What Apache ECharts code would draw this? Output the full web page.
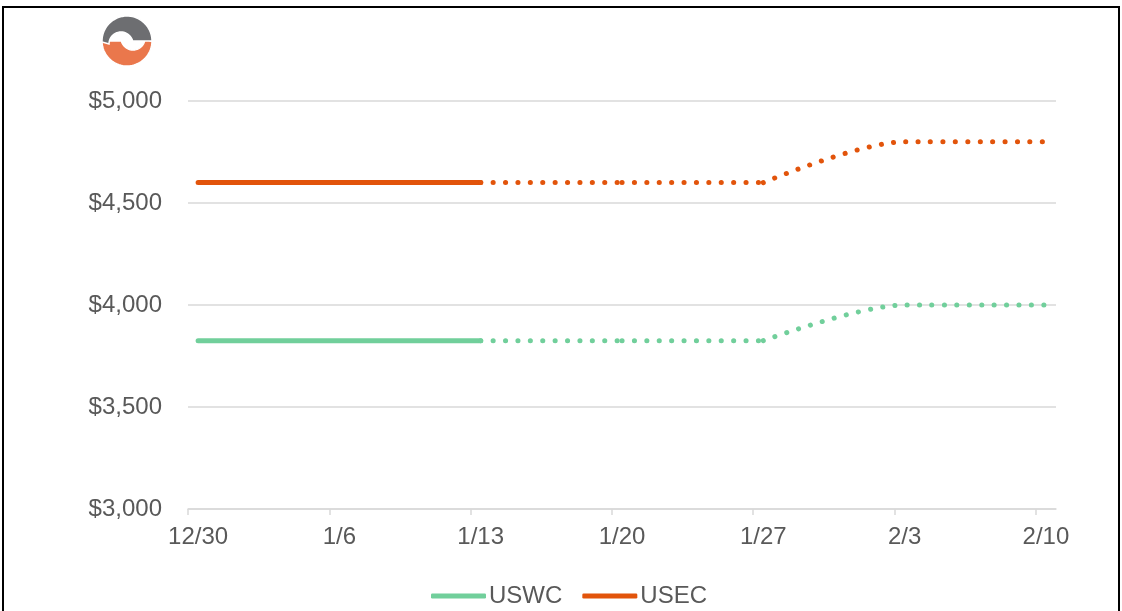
<!DOCTYPE html>
<html>
<head>
<meta charset="utf-8">
<script src="https://cdn.jsdelivr.net/npm/echarts@6/dist/echarts.min.js"></script>
<style>
  html, body { margin: 0; padding: 0; background: #fff; }
  #chart { width: 1122px; height: 611px; }
</style>
</head>
<body>
<div id="chart"></div>
<script>
// weekly points, x = days since 12/30 (Excel date axis: points sit mid-day)
const tickLabels = ['12/30', '1/6', '1/13', '1/20', '1/27', '2/3', '2/10'];
const weekDays = [0, 7, 14, 21, 28, 35, 42];
const uswc = [3825, 3825, 3825, 3825, 3825, 4000, 4000];
const usec = [4600, 4600, 4600, 4600, 4600, 4800, 4800];

const GREEN = '#71cf9b';
const ORANGE = '#e2540b';

// solid = actuals, dotted = forecast segments
const solidIdx = [0, 1, 2];
const dottedSegs = [[2, 3], [3, 4], [4, 5, 6]];

const pts = (vals, idx) => idx.map(i => [weekDays[i] + 0.5, vals[i]]);

function makeSeries(name, vals, color) {
  const out = [{
    name: name,
    type: 'line',
    color: color,
    symbol: 'none',
    data: pts(vals, solidIdx),
    lineStyle: { width: 5, color: color, cap: 'round' }
  }];
  dottedSegs.forEach(seg => {
    out.push({
      name: name,
      type: 'line',
      color: color,
      symbol: 'none',
      smooth: seg.length > 2 ? 0.3 : false,
      data: pts(vals, seg),
      lineStyle: { width: 5, color: color, type: [0.1, 12.3], cap: 'round' }
    });
  });
  return out;
}

// logo: two offset crescents
function arc(cx, cy, r, a0, a1, n) {
  const p = [];
  for (let i = 0; i <= n; i++) {
    const a = (a0 + (a1 - a0) * i / n) * Math.PI / 180;
    p.push([cx + r * Math.cos(a), cy - r * Math.sin(a)]);
  }
  return p;
}
const greyLogo = arc(127, 41, 25, 182, 0, 40).concat(arc(121, 44, 12, 14.5, 180, 24));
const orangeLogo = arc(127, 41, 25, -2, -180, 40).concat(arc(133, 38, 12, 194.5, 360, 24));

const chart = echarts.init(document.getElementById('chart'));

const axisText = { color: '#595959', fontSize: 24, fontFamily: 'Liberation Sans, Arial, sans-serif' };

chart.setOption({
  animation: false,
  grid: { left: 188, right: 66, top: 101, bottom: 102 },
  graphic: [
    {
      type: 'rect',
      shape: { x: 3, y: 7, width: 1116, height: 620 },
      style: { fill: 'none', stroke: '#000', lineWidth: 2 }
    },
    { type: 'polygon', shape: { points: orangeLogo }, style: { fill: '#ea774c', stroke: '#fff', lineWidth: 1.5 } },
    { type: 'polygon', shape: { points: greyLogo }, style: { fill: '#6d6e71', stroke: '#fff', lineWidth: 1.5 } }
  ],
  legend: {
    data: ['USWC', 'USEC'],
    left: 426,
    top: 579,
    icon: 'roundRect',
    itemWidth: 55,
    itemHeight: 5,
    itemGap: 20,
    textStyle: { color: '#595959', fontSize: 24, fontFamily: 'Liberation Sans, Arial, sans-serif', padding: [0, 0, 0, -2] }
  },
  xAxis: {
    type: 'value',
    min: 0,
    max: 43,
    interval: 7,
    splitLine: { show: false },
    axisLine: { lineStyle: { color: '#d9d9d9', width: 1.5 } },
    axisTick: { show: true, customValues: weekDays, length: 6, lineStyle: { color: '#d9d9d9', width: 1.5 } },
    axisLabel: Object.assign({
      customValues: weekDays.map(d => d + 0.5),
      margin: 16,
      formatter: v => tickLabels[weekDays.indexOf(v - 0.5)] || ''
    }, axisText)
  },
  yAxis: {
    type: 'value',
    min: 3000,
    max: 5000,
    interval: 500,
    axisLine: { show: false },
    axisTick: { show: false },
    splitLine: { lineStyle: { color: '#d9d9d9', width: 1.5 } },
    axisLabel: Object.assign({
      margin: 26,
      formatter: v => '$' + v.toLocaleString('en-US')
    }, axisText)
  },
  series: [].concat(makeSeries('USWC', uswc, GREEN), makeSeries('USEC', usec, ORANGE))
});
</script>
</body>
</html>
